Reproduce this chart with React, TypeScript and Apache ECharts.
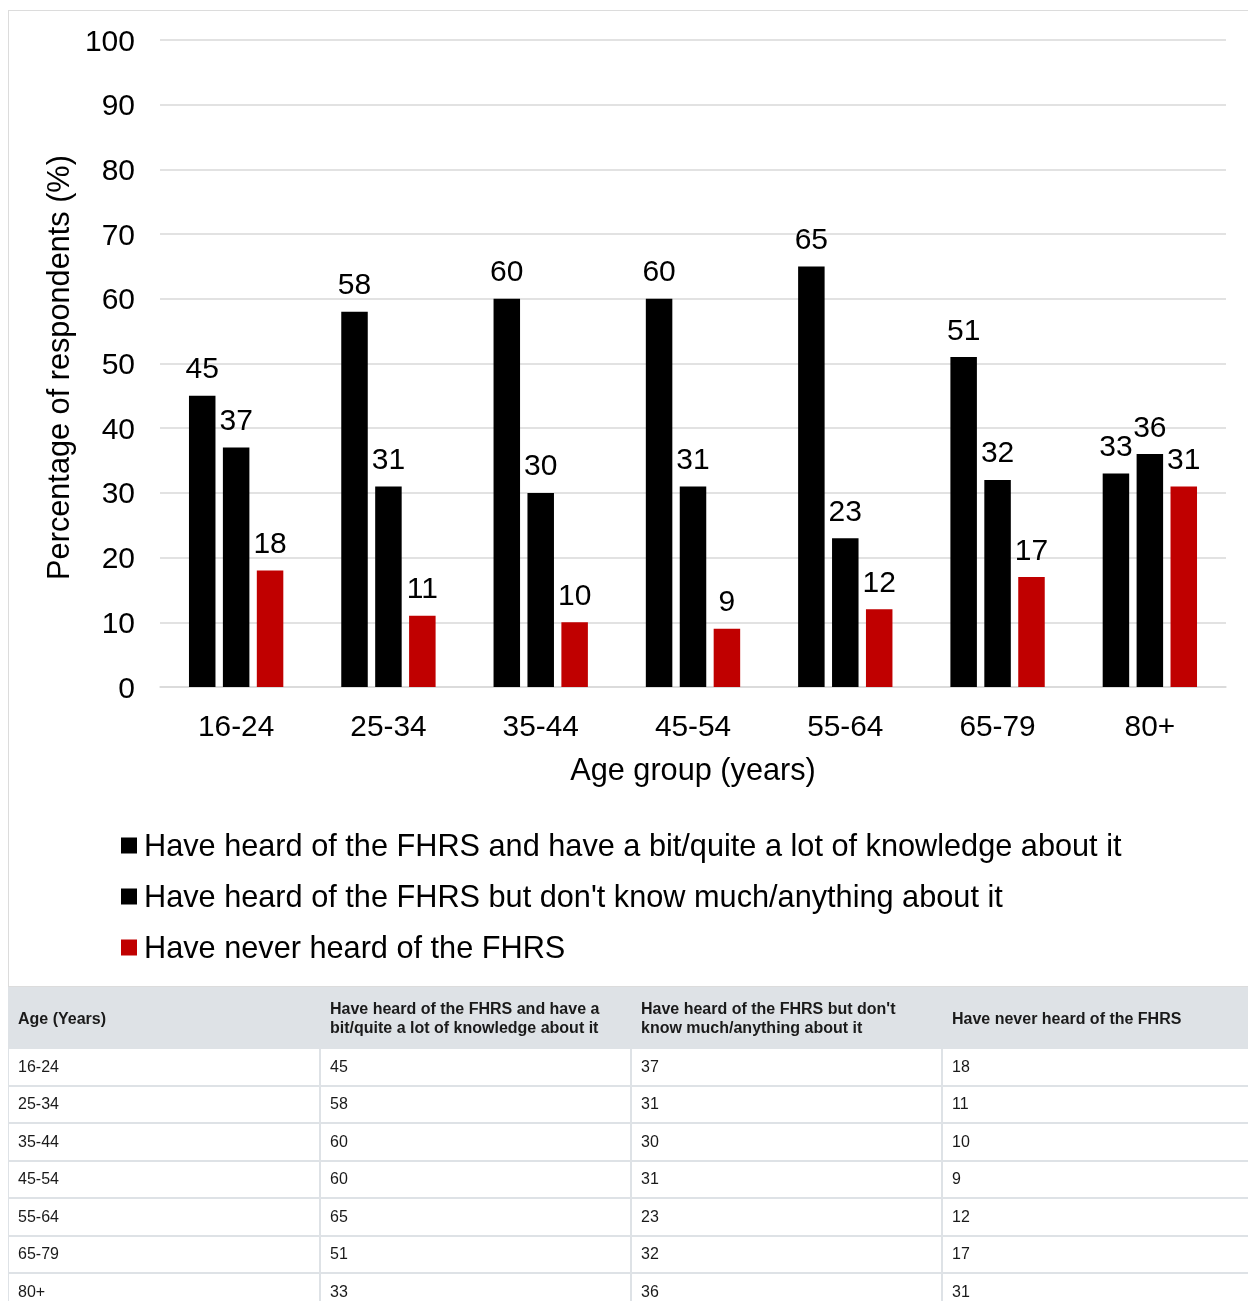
import React, { useEffect, useRef } from "react";
import * as echarts from "echarts";

const categories = ["16-24", "25-34", "35-44", "45-54", "55-64", "65-79", "80+"];
const seriesNames = [
  "Have heard of the FHRS and have a bit/quite a lot of knowledge about it",
  "Have heard of the FHRS but don't know much/anything about it",
  "Have never heard of the FHRS",
];
const knowledgeable = [45, 58, 60, 60, 65, 51, 33];
const heardOnly = [37, 31, 30, 31, 23, 32, 36];
const neverHeard = [18, 11, 10, 9, 12, 17, 31];
const seriesColors = ["#000000", "#000000", "#c00000"];
const yTicks = { min: 0, max: 100, interval: 10 };

const FONT = "'Liberation Sans', Arial, Helvetica, sans-serif";

function Chart() {
  const ref = useRef<HTMLDivElement>(null);
  useEffect(() => {
    const chart = echarts.init(ref.current!, null, { renderer: "svg" });
    const values = [knowledgeable, heardOnly, neverHeard];
    chart.setOption({
      animation: false,
      textStyle: { fontFamily: FONT },
      grid: { left: 151, top: 29, width: 1066, height: 647 },
      legend: {
        orient: "vertical",
        left: 107,
        top: 814,
        itemWidth: 16,
        itemHeight: 16,
        itemGap: 20,
        icon: "rect",
        textStyle: { fontSize: 30.7, color: "#000", fontFamily: FONT, padding: [0, 0, 0, 2] },
        data: seriesNames,
      },
      xAxis: {
        type: "category",
        data: categories,
        name: "Age group (years)",
        nameLocation: "middle",
        nameGap: 67,
        nameTextStyle: { fontSize: 30.7, color: "#000", fontFamily: FONT },
        axisLine: { lineStyle: { color: "#d9d9d9", width: 1.5 } },
        axisTick: { show: false },
        axisLabel: { fontSize: 29.8, color: "#000", margin: 23, fontFamily: FONT },
      },
      yAxis: {
        type: "value",
        min: yTicks.min,
        max: yTicks.max,
        interval: yTicks.interval,
        name: "Percentage of respondents (%)",
        nameLocation: "middle",
        nameGap: 86,
        nameTextStyle: { fontSize: 30.7, color: "#000", fontFamily: FONT, padding: [0, 8, 0, 0] },
        axisLine: { show: false },
        axisTick: { show: false },
        axisLabel: { fontSize: 30, color: "#000", margin: 25, fontFamily: FONT },
        splitLine: { lineStyle: { color: "#d9d9d9", width: 1.5 } },
      },
      series: values.map((d, i) => ({
        name: seriesNames[i],
        type: "bar",
        data: d,
        barWidth: 26.5,
        barGap: "28%",
        itemStyle: { color: seriesColors[i] },
        label: {
          show: true,
          position: "top",
          distance: 13,
          fontSize: 30,
          color: "#000",
          fontFamily: FONT,
        },
      })),
    });
    return () => chart.dispose();
  }, []);
  return <div ref={ref} style={{ width: 1239, height: 975 }} />;
}

const cellBorder = "2px solid #dee2e6";

export default function App() {
  const rows = categories.map((c, i) => [c, knowledgeable[i], heardOnly[i], neverHeard[i]]);
  const thStyle: React.CSSProperties = {
    background: "#dee2e6",
    fontWeight: "bold",
    fontSize: 16,
    lineHeight: "19px",
    textAlign: "left",
    verticalAlign: "middle",
    padding: "0 9px",
    border: cellBorder,
    height: 60,
    boxSizing: "border-box",
  };
  const tdStyle: React.CSSProperties = {
    fontSize: 16,
    padding: "0 9px",
    border: cellBorder,
    height: 37.5,
    boxSizing: "border-box",
    verticalAlign: "middle",
  };
  return (
    <div
      style={{
        position: "fixed",
        left: 8,
        top: 10,
        width: 1240,
        height: 1291,
        overflow: "hidden",
        fontFamily: FONT,
        color: "#1a1a1a",
      }}
    >
      <div style={{ width: 1260, border: "1px solid #dcdcdc", height: 975, boxSizing: "content-box" }}>
        <Chart />
      </div>
      <table style={{ borderCollapse: "collapse", tableLayout: "fixed", width: 1245, marginLeft: -1 }}>
        <colgroup>
          <col style={{ width: 312 }} />
          <col style={{ width: 311 }} />
          <col style={{ width: 311 }} />
          <col style={{ width: 311 }} />
        </colgroup>
        <thead>
          <tr>
            <th style={thStyle}>Age (Years)</th>
            <th style={thStyle}>Have heard of the FHRS and have a<br />bit/quite a lot of knowledge about it</th>
            <th style={thStyle}>Have heard of the FHRS but don't<br />know much/anything about it</th>
            <th style={thStyle}>Have never heard of the FHRS</th>
          </tr>
        </thead>
        <tbody>
          {rows.map((r) => (
            <tr key={String(r[0])}>
              {r.map((v, j) => (
                <td key={j} style={tdStyle}>{v}</td>
              ))}
            </tr>
          ))}
        </tbody>
      </table>
    </div>
  );
}
